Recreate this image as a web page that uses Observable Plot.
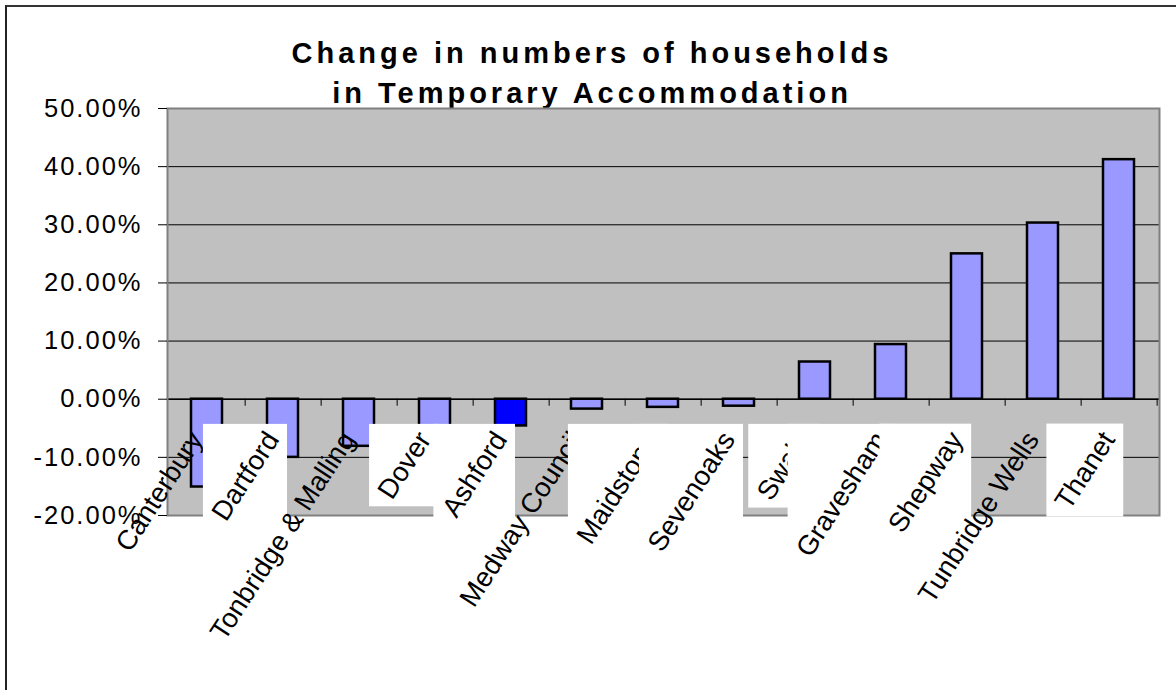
<!DOCTYPE html>
<html>
<head>
<meta charset="utf-8">
<script src="https://cdn.jsdelivr.net/npm/d3@7"></script>
<script src="https://cdn.jsdelivr.net/npm/@observablehq/plot@0.6"></script>
<style>
  body { margin: 0; background: #fff; }
  #wrap { position: relative; width: 1176px; height: 690px; overflow: hidden; font-family: "Liberation Sans", Arial, sans-serif; }
  #frame { position: absolute; left: 5px; top: 5px; width: 1200px; height: 700px; border-left: 2px solid #222; border-top: 2px solid #333; pointer-events: none; z-index: 2; }
  #title { height: 67px; padding-top: 33px; padding-left: 8px; line-height: 40px; text-align: center; font-weight: bold; font-size: 29px; letter-spacing: 4px; color: #000; }
  #chart svg { display: block; overflow: visible; }
</style>
</head>
<body>
<div id="wrap">
  <div id="frame"></div>
  <div id="title">Change in numbers of households<br>in Temporary Accommodation</div>
  <div id="chart"></div>
</div>
<script>
const categories = ["Canterbury", "Dartford", "Tonbridge & Malling", "Dover", "Ashford", "Medway Council", "Maidstone", "Sevenoaks", "Swale", "Gravesham", "Shepway", "Tunbridge Wells", "Thanet"];
const values = [-0.151, -0.100, -0.081, -0.065, -0.046, -0.017, -0.014, -0.012, 0.064, 0.094, 0.250, 0.303, 0.412];
const yTicks = [-0.2, -0.1, 0, 0.1, 0.2, 0.3, 0.4, 0.5];
const highlighted = "Ashford";
const boxedLabels = ["Dartford", "Dover", "Ashford", "Maidstone", "Sevenoaks", "Swale", "Gravesham", "Shepway", "Thanet"];

const data = categories.map((name, i) => ({name, value: values[i]}));

const W = 1176, H = 590, ML = 167, MR = 17, MT = 8, MB = 175;
const step = (W - ML - MR) / categories.length;
const fmt = d => (Math.round(d * 10000) / 100).toFixed(2) + "%";

const plot = Plot.plot({
  width: W,
  height: H,
  marginLeft: ML,
  marginRight: MR,
  marginTop: MT,
  marginBottom: MB,
  style: {fontFamily: "'Liberation Sans', Arial, sans-serif", background: "transparent", color: "#000"},
  x: {domain: categories, paddingInner: 0.59, paddingOuter: 0.295, axis: null},
  y: {domain: [-0.2, 0.5], axis: null},
  marks: [
    Plot.frame({fill: "#c0c0c0", stroke: null}),
    Plot.ruleY(yTicks.filter(t => t > -0.2 && t < 0.5), {stroke: "#000", strokeWidth: 1}),
    Plot.barY(data, {x: "name", y: "value", fill: d => d.name === highlighted ? "#0000ff" : "#9999ff", stroke: "#000", strokeWidth: 2.5}),
    Plot.ruleY([0], {stroke: "#000", strokeWidth: 1.5}),
    Plot.ruleX(categories, {x: d => d, dx: step / 2, y1: 0, y2: 0, insetTop: 7, stroke: "#000", strokeWidth: 1}),
    Plot.frame({stroke: "#808080", strokeWidth: 2}),
    Plot.axisY({ticks: yTicks, tickFormat: fmt, tickSize: 9, tickPadding: 16, fontSize: 25.5, stroke: "#000", label: null}),
    Plot.text(categories, {x: d => d, text: d => d, frameAnchor: "bottom", dx: -3, dy: -76, rotate: -57, textAnchor: "end", lineAnchor: "bottom", fontSize: 27.5, fill: "#000"})
  ]
});

document.getElementById("chart").appendChild(plot);

// letter spacing for y tick labels
d3.select(plot).selectAll('g[aria-label="y-axis tick label"] text').style("letter-spacing", "2px");

// white label background boxes (drawn interleaved with labels, like the original)
const plotBottom = H - MB;
const labelGroup = Array.from(plot.querySelectorAll("g")).find(gr =>
  gr.querySelectorAll(":scope > text").length === categories.length &&
  Array.from(gr.querySelectorAll(":scope > text")).some(t => t.textContent === "Thanet"));
if (labelGroup) {
  const inv = labelGroup.getScreenCTM().inverse();
  const svgTop = plot.getBoundingClientRect().top;
  const pad = 2;
  const bottomLocal = new DOMPoint(0, svgTop + plotBottom + 2).matrixTransform(inv).y;
  Array.from(labelGroup.querySelectorAll(":scope > text")).forEach(t => {
    if (!boxedLabels.includes(t.textContent)) return;
    const r = t.getBoundingClientRect();
    const p1 = new DOMPoint(r.left - pad, r.top - pad).matrixTransform(inv);
    const p2 = new DOMPoint(r.right + pad, r.bottom + pad).matrixTransform(inv);
    const y2 = Math.min(p2.y, bottomLocal);
    const rect = document.createElementNS("http://www.w3.org/2000/svg", "rect");
    rect.setAttribute("x", p1.x);
    rect.setAttribute("y", p1.y);
    rect.setAttribute("width", p2.x - p1.x);
    rect.setAttribute("height", Math.max(0, y2 - p1.y));
    rect.setAttribute("fill", "#fff");
    labelGroup.insertBefore(rect, t);
  });
}
</script>
</body>
</html>
